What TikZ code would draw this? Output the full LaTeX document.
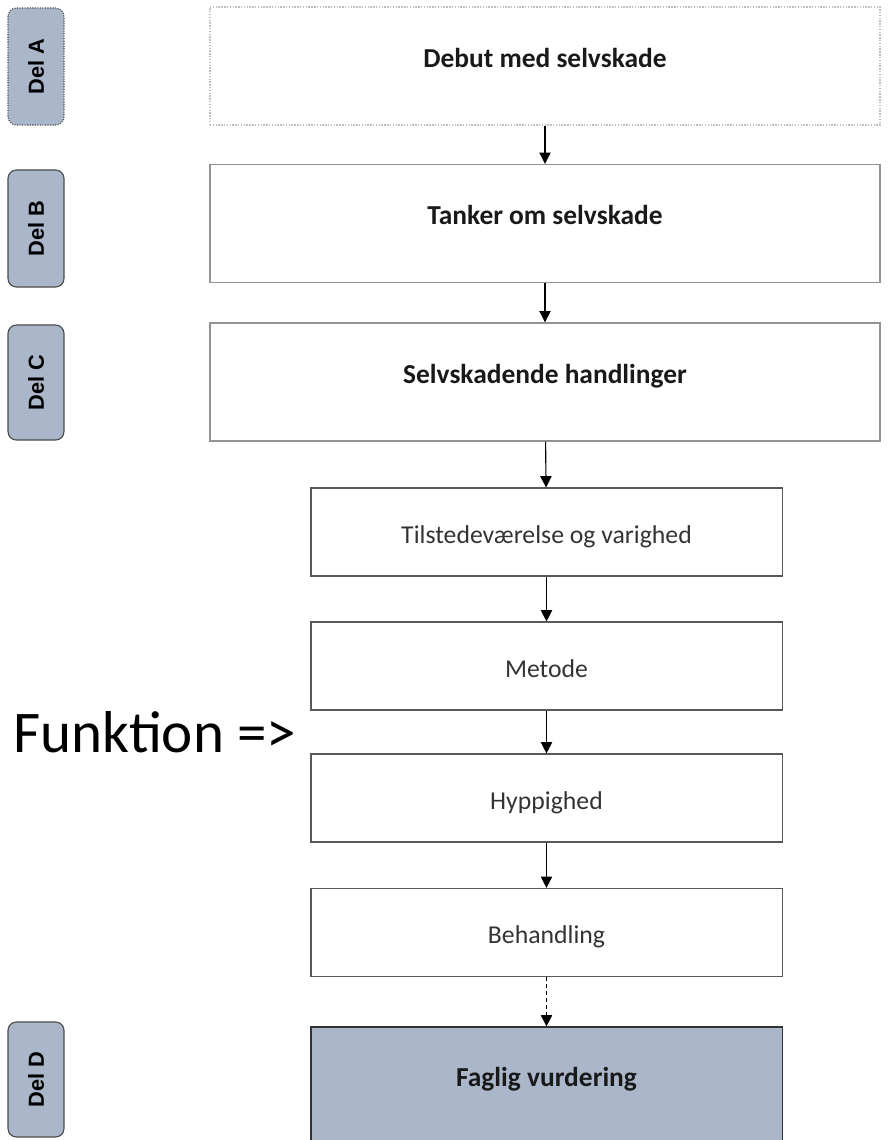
\documentclass[tikz,border=0pt]{standalone}
\usepackage{fontspec}
\setmainfont{Carlito}
\newfontfamily\tabfont{Liberation Sans}
\usepackage{xcolor}
\usepackage{tikz}
\usetikzlibrary{shapes,arrows,arrows.meta,positioning,calc}
\definecolor{tabfill}{HTML}{AAB7CA}

\begin{document}
\begin{tikzpicture}[
    x=0.025cm, y=-0.025cm,
    delbox/.style={rectangle, rounded corners=6pt, draw=gray!60!black, fill=tabfill, line width=0.8pt, minimum height=1.4cm, inner sep=0pt, font=\tabfont\bfseries\fontsize{15.5}{17}\selectfont, rotate=90},
    bigbox/.style={rectangle, draw=gray!85, line width=1pt, minimum width=16.75cm, minimum height=2.95cm, text height=0.5cm, text depth=0.45cm, text=black!90, font=\bfseries\fontsize{19.5}{22}\selectfont},
    stepbox/.style={rectangle, draw=gray!70!black, line width=0.8pt, minimum width=11.775cm, minimum height=2.2cm, text height=0.72cm, text depth=0.16cm, text=black!80, font=\fontsize{18.3}{20}\selectfont},
    flow/.style={-{Triangle[width=8pt,length=8pt]}, line width=0.8pt}
]
    \useasboundingbox (0,0) rectangle (889,1140);

    % Tabs
    \node[delbox, densely dotted, minimum width=2.925cm] (delA) at (36,66.5) {Del A};
    \foreach \yc/\len/\lab in {228.5/2.925/B, 382.5/2.875/C, 1079.5/2.875/D} {
        \node[delbox, minimum width=\len cm] (del\lab) at (36,\yc) {Del \lab};
    }

    % Main parts
    \node[bigbox, densely dotted, draw=gray!50] (debut) at (545,66) {Debut med selvskade};
    \node[bigbox] (tanker) at (545,223.5) {Tanker om selvskade};
    \node[bigbox] (handl) at (545,382) {Selvskadende handlinger};

    % Steps
    \node[stepbox] (tilst) at (546.5,532) {Tilstedeværelse og varighed};
    \node[stepbox] (metode) at (546.5,666) {Metode};
    \node[stepbox] (hypp) at (546.5,798) {Hyppighed};
    \node[stepbox] (behand) at (546.5,932.5) {Behandling};
    \node[stepbox, fill=tabfill, draw=black!80, minimum height=2.95cm, text height=0.5cm, text depth=0.47cm, text=black!90, font=\bfseries\fontsize{19.5}{22}\selectfont] (faglig) at (546.5,1086) {Faglig vurdering};

    \draw[flow] (debut) -- (tanker);
    \draw[flow] (tanker) -- (handl);
    \draw[flow] (handl) -- (tilst);
    \draw[flow] (tilst) -- (metode);
    \draw[flow] (metode) -- (hypp);
    \draw[flow] (hypp) -- (behand);
    \draw[flow, densely dashed, line width=0.5pt] (behand) -- (faglig);

    \node[anchor=base west, inner sep=0pt, font=\fontsize{42}{45}\selectfont] (funk) at (13,752) {Funktion =>};
\end{tikzpicture}
\end{document}
